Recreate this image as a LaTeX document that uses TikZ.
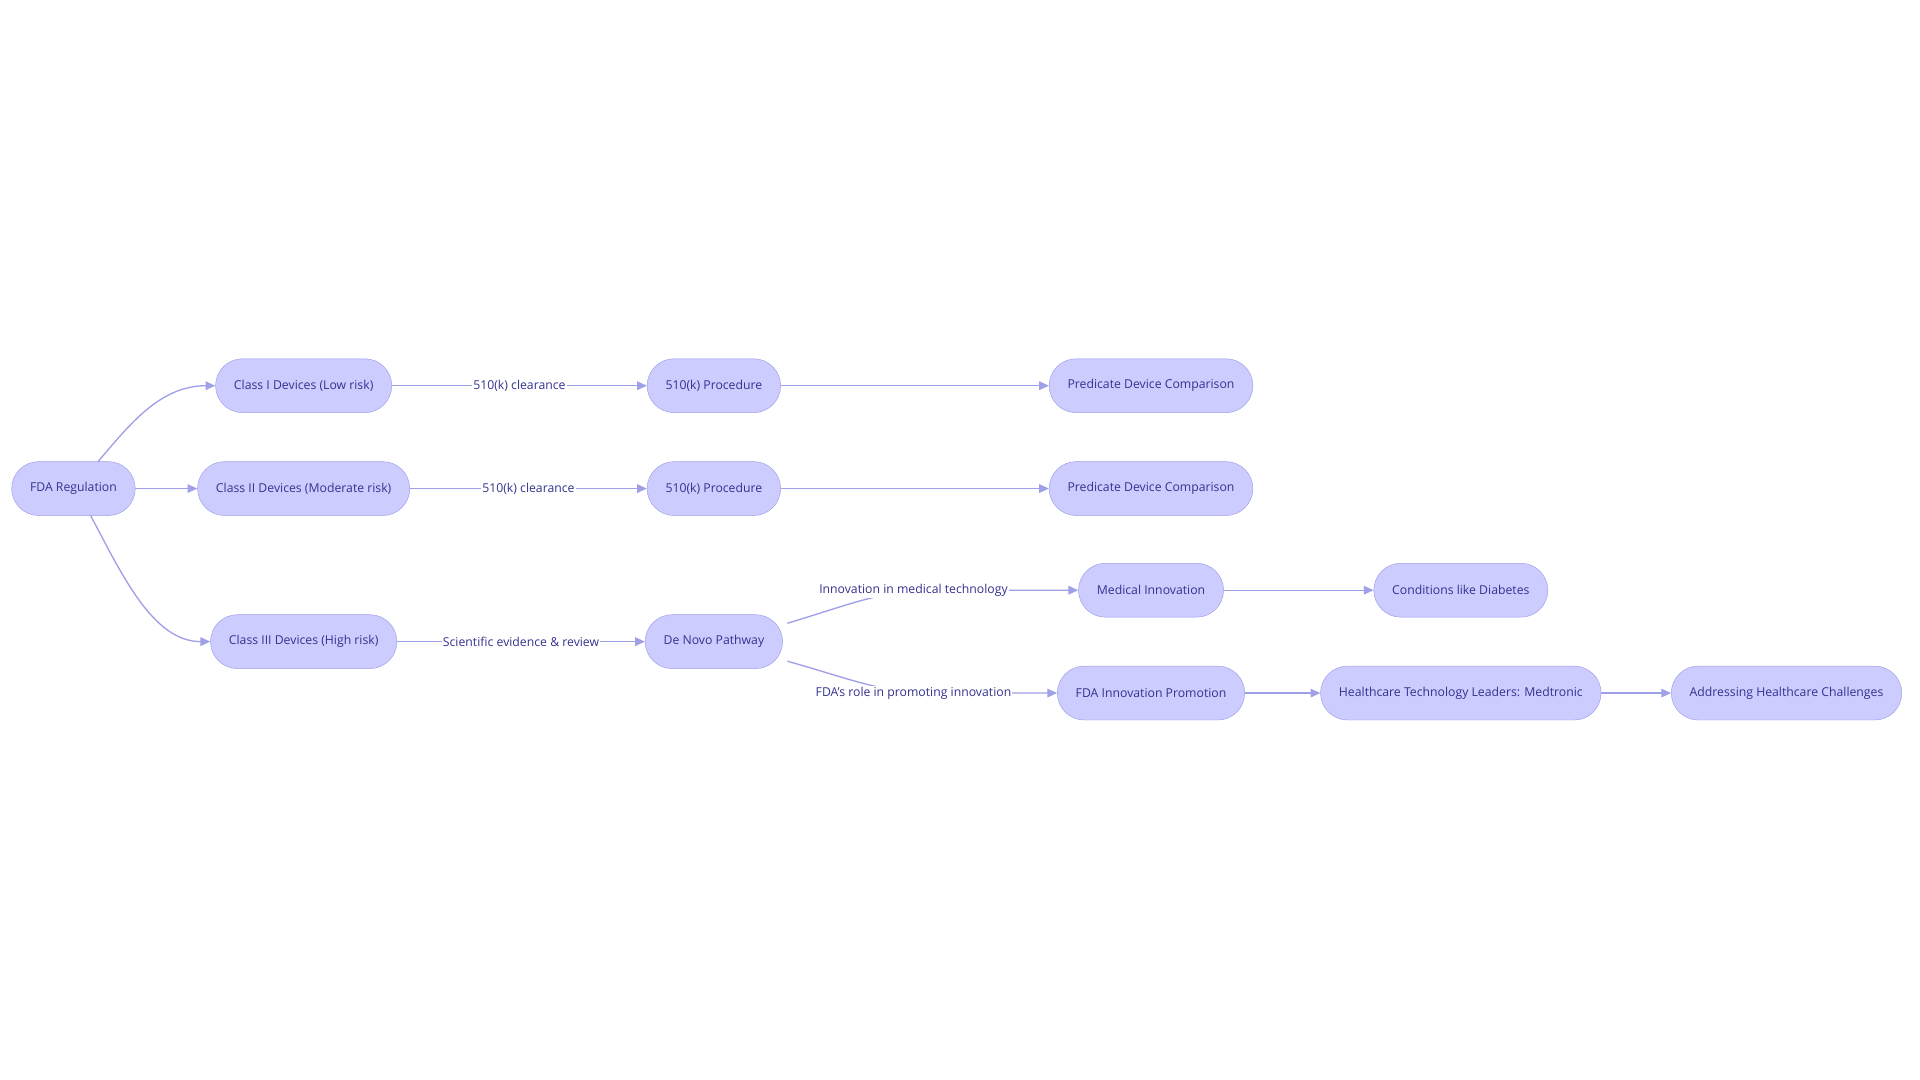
\documentclass[tikz,border=0pt]{standalone}
\usepackage{fontspec}
\setmainfont{Open Sans}
\usetikzlibrary{arrows.meta}
\definecolor{boxfill}{HTML}{CCCCFF}
\definecolor{boxline}{HTML}{A0A0E8}
\definecolor{boxtext}{HTML}{33338F}
\tikzset{
  stage/.style={draw=boxline, fill=boxfill, text=boxtext, rounded corners=22pt, minimum height=44pt, inner xsep=15pt, font=\fontsize{10}{12}\selectfont},
  link/.style={draw=boxline, line width=1.1pt, -{Triangle[length=8pt, width=7pt]}},
  tag/.style={fill=white, text=boxtext, inner sep=1pt, font=\fontsize{10}{12}\selectfont}
}
\begin{document}
\begin{tikzpicture}[x=1pt, y=-1pt]
\useasboundingbox[fill=white] (0,0) rectangle (1568,882);

\node[stage] (fda) at (60,399) {FDA Regulation};
\node[stage] (c1) at (248,315) {Class I Devices (Low risk)};
\node[stage] (c2) at (248,399) {Class II Devices (Moderate risk)};
\node[stage] (c3) at (248,524) {Class III Devices (High risk)};
\node[stage] (p1) at (583,315) {510(k) Procedure};
\node[stage] (p2) at (583,399) {510(k) Procedure};
\node[stage] (dn) at (583,524) {De Novo Pathway};
\node[stage] (pd1) at (940,315) {Predicate Device Comparison};
\node[stage] (pd2) at (940,399) {Predicate Device Comparison};
\node[stage] (mi) at (940,482) {Medical Innovation};
\node[stage] (fip) at (940,566) {FDA Innovation Promotion};
\node[stage] (cd) at (1193,482) {Conditions like Diabetes};
\node[stage] (htl) at (1193,566) {Healthcare Technology Leaders: Medtronic};
\node[stage] (ahc) at (1459,566) {Addressing Healthcare Challenges};

\coordinate (fdaA) at (80,377);
\coordinate (fdaC) at (74,421);
\coordinate (dnA) at (643,509);
\coordinate (dnB) at (643,540);

\draw[link] (fdaA) .. controls (105,348) and (130,315) .. (c1.west);
\draw[link] (fda) -- (c2);
\draw[link] (fdaC) .. controls (100,470) and (125,524) .. (c3.west);

\draw[link] (c1) -- node[tag] {510(k) clearance} (p1);
\draw[link] (c2) -- node[tag] {510(k) clearance} (p2);
\draw[link] (c3) -- node[tag] {Scientific evidence \& review} (dn);
\draw[link] (p1) -- (pd1);
\draw[link] (p2) -- (pd2);

\draw[link] (dnA) .. controls (690,495) and (720,482) .. (760,482) -- (mi.west);
\node[tag] (t1) at (746,482) {Innovation in medical technology};
\draw[link] (dnB) .. controls (690,553) and (720,566) .. (760,566) -- (fip.west);
\node[tag] (t2) at (746,566) {FDA's role in promoting innovation};

\draw[link] (mi) -- (cd);
\draw[link] (fip) -- (htl);
\draw[link] (htl) -- (ahc);
\end{tikzpicture}
\end{document}
